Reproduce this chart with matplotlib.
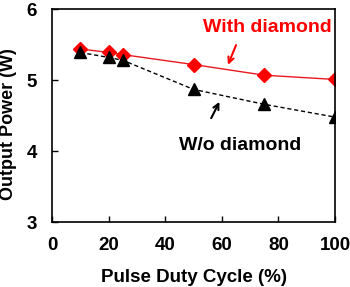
import matplotlib
matplotlib.use("Agg")
import matplotlib.pyplot as plt

# Data
duty = [10, 20, 25, 50, 75, 100]
with_diamond = [5.44, 5.39, 5.36, 5.22, 5.07, 5.01]
without_diamond = [5.39, 5.32, 5.28, 4.87, 4.66, 4.48]

plt.rcParams['font.family'] = ['Liberation Sans', 'DejaVu Sans']
plt.rcParams['font.weight'] = 'bold'

fig = plt.figure(figsize=(3.5, 2.87), dpi=100)
ax = fig.add_axes([0.149, 0.226, 0.808, 0.742])

ax.plot(duty, with_diamond, color='#e8191f', lw=1.0, marker='D', ms=7.5,
        markerfacecolor='#ff0000', markeredgecolor='#ff0000')
ax.plot(duty, without_diamond, color='black', lw=1.0, ls=(0, (3, 2)), marker='^', ms=8.5)

ax.set_xlim(0, 100)
ax.set_ylim(3, 6)
ax.set_xticks([0, 20, 40, 60, 80, 100])
ax.set_yticks([3, 4, 5, 6])
ax.tick_params(direction='in', length=4, width=1, labelsize=13.5)
ax.tick_params(axis='y', pad=11)
ax.tick_params(axis='x', pad=11)
for s in ax.spines.values():
    s.set_linewidth(1.2)

ax.set_xlabel('Pulse Duty Cycle (%)', fontsize=13.5, fontweight='bold')
ax.set_ylabel('Output Power (W)', fontsize=13, fontweight='bold')
ax.xaxis.set_label_coords(0.5, -0.22)
ax.yaxis.set_label_coords(-0.125, 0.46)

ax.text(76, 5.74, 'With diamond', color='#ff0000', fontsize=14, fontweight='bold',
        ha='center', va='center')
ax.text(66.5, 4.08, 'W/o diamond', color='black', fontsize=14, fontweight='bold',
        ha='center', va='center')

ax.annotate('', xy=(61.8, 5.18), xytext=(65.4, 5.53),
            arrowprops=dict(arrowstyle='->', color='#ff0000', lw=1.5))
ax.annotate('', xy=(59.6, 4.73), xytext=(55.8, 4.43),
            arrowprops=dict(arrowstyle='->', color='black', lw=1.5))

fig.savefig('out.png', dpi=100)
